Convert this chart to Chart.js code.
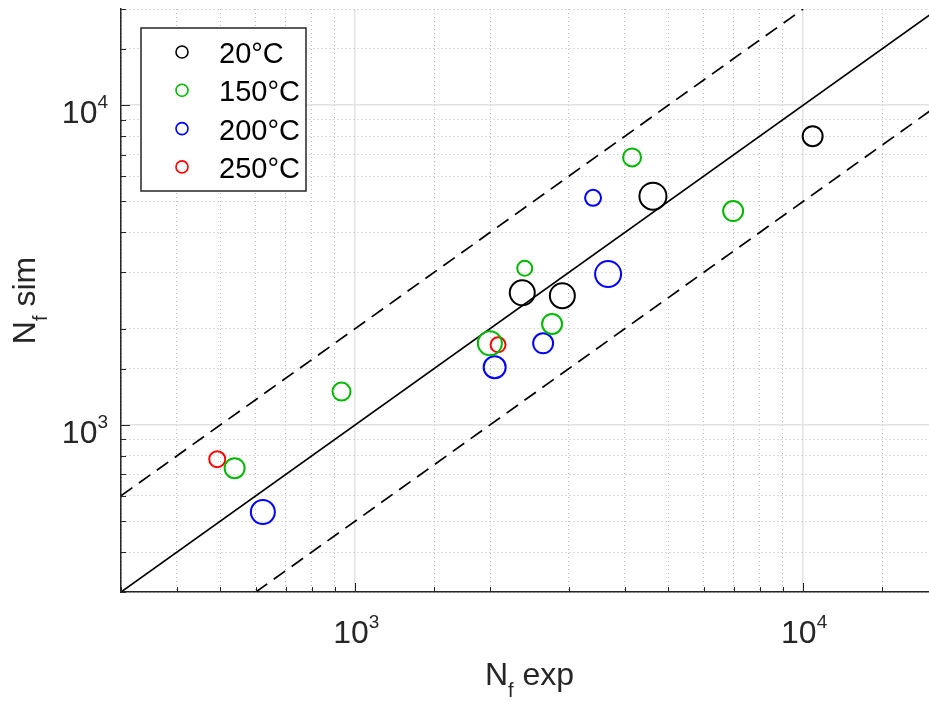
<!DOCTYPE html>
<html>
<head>
<meta charset="utf-8">
<script src="https://cdn.jsdelivr.net/npm/chart.js@4.4.1/dist/chart.umd.min.js"></script>
<style>
  html, body { margin: 0; padding: 0; background: #fff; overflow: hidden; }
  #contenedor { position: absolute; left: 0; top: 0; width: 945px; height: 701px; }
</style>
</head>
<body>
<div id="contenedor"><canvas id="grafico" width="945" height="701"></canvas></div>
<script>
// --- Datos (N_f experimental vs N_f simulado) ---
const series = ['20°C', '150°C', '200°C', '250°C'];

const exp20 = [2360, 2900, 4620, 10500];
const sim20 = [2590, 2535, 5195, 8000];

const exp150 = [538, 932, 1998, 2390, 2751, 4150, 6977];
const sim150 = [732, 1271, 1800, 3089, 2069, 6865, 4665];

const exp200 = [622, 2048, 2627, 3396, 3669];
const sim200 = [534, 1514, 1800, 5132, 2964];

const exp250 = [492, 2084];
const sim250 = [781, 1780];

// radio de cada marcador (px)
const radio20 = [12.5, 12.5, 13.5, 10];
const radio150 = [10, 9, 12, 7.5, 10, 9, 10];
const radio200 = [12, 11, 10, 8, 13];
const radio250 = [8, 7.5];

// rectas de referencia: y = x, y = 2x, y = x/2
const lineaX = [300, 20000];
const lineaY = [300, 20000];
const superiorX = [300, 10000];
const superiorY = [600, 20000];
const inferiorX = [600, 20000];
const inferiorY = [300, 10000];

// etiquetas de los ejes
const ticksX = [1000, 10000];
const ticksY = [1000, 10000];

const colores = ['#000000', 'rgb(0,185,0)', '#0000ff', '#ff0000'];
const FUENTE = '"Liberation Sans", Arial, Helvetica, sans-serif';

const puntos = (xs, ys) => xs.map((v, i) => ({ x: v, y: ys[i] }));
const esDecada = v => Math.abs(Math.log10(v) - Math.round(Math.log10(v))) < 1e-9;

function serieDispersion(idx, xs, ys, rs) {
    return {
        type: 'scatter',
        label: series[idx],
        data: puntos(xs, ys),
        borderColor: colores[idx],
        backgroundColor: 'rgba(0,0,0,0)',
        pointRadius: rs,
        pointBorderWidth: 2,
        pointStyle: 'circle'
    };
}

function recta(xs, ys, guiones) {
    return {
        type: 'line',
        data: puntos(xs, ys),
        borderColor: '#000000',
        borderWidth: 1.7,
        borderDash: guiones,
        pointRadius: 0,
        fill: false
    };
}

// Dibuja un texto con sub/superíndice
function medir(ctx, partes) {
    let w = 0;
    partes.forEach(p => { ctx.font = p.tam + 'px ' + FUENTE; w += ctx.measureText(p.t).width; });
    return w;
}
function escribir(ctx, partes, x, y) {
    partes.forEach(p => {
        ctx.font = p.tam + 'px ' + FUENTE;
        ctx.fillText(p.t, x, y + (p.dy || 0));
        x += ctx.measureText(p.t).width;
    });
}

const decorado = {
    id: 'decorado',
    afterDraw(chart) {
        const { ctx, chartArea: ca, scales: { x, y } } = chart;
        ctx.save();

        // marcas hacia dentro
        ctx.strokeStyle = '#262626';
        ctx.lineWidth = 1;
        x.ticks.forEach(t => {
            const px = Math.round(x.getPixelForValue(t.value)) + 0.5;
            const largo = esDecada(t.value) ? 9 : 5;
            ctx.beginPath(); ctx.moveTo(px, ca.bottom); ctx.lineTo(px, ca.bottom - largo); ctx.stroke();
        });
        y.ticks.forEach(t => {
            const py = Math.round(y.getPixelForValue(t.value)) + 0.5;
            const largo = esDecada(t.value) ? 9 : 5;
            ctx.beginPath(); ctx.moveTo(ca.left, py); ctx.lineTo(ca.left + largo, py); ctx.stroke();
        });

        // etiquetas 10^n
        ctx.fillStyle = '#262626';
        ctx.textBaseline = 'alphabetic';
        ctx.textAlign = 'left';
        ticksX.forEach(v => {
            const partes = [{ t: '10', tam: 32 }, { t: String(Math.round(Math.log10(v))), tam: 19, dy: -15 }];
            const w = medir(ctx, partes);
            escribir(ctx, partes, x.getPixelForValue(v) - w / 2 + 1, ca.bottom + 51);
        });
        ticksY.forEach(v => {
            const partes = [{ t: '10', tam: 32 }, { t: String(Math.round(Math.log10(v))), tam: 19, dy: -15 }];
            const w = medir(ctx, partes);
            escribir(ctx, partes, ca.left - 13 - w, y.getPixelForValue(v) + 18);
        });

        // títulos de los ejes
        const tituloX = [{ t: 'N', tam: 32 }, { t: 'f', tam: 20, dy: 12 }, { t: ' exp', tam: 32 }];
        const wx = medir(ctx, tituloX);
        escribir(ctx, tituloX, (ca.left + ca.right) / 2 - wx / 2, 685);

        const tituloY = [{ t: 'N', tam: 32 }, { t: 'f', tam: 20, dy: 12 }, { t: ' sim', tam: 32 }];
        const wy = medir(ctx, tituloY);
        ctx.save();
        ctx.translate(35, (ca.top + ca.bottom) / 2);
        ctx.rotate(-Math.PI / 2);
        escribir(ctx, tituloY, -wy / 2, 0);
        ctx.restore();

        // leyenda
        const lx = ca.left + 20, ly = ca.top + 19, lw = 165, lh = 163;
        ctx.fillStyle = '#ffffff';
        ctx.fillRect(lx, ly, lw, lh);
        ctx.strokeStyle = '#262626';
        ctx.lineWidth = 1.5;
        ctx.strokeRect(lx, ly, lw, lh);
        ctx.font = '29px ' + FUENTE;
        series.forEach((s, i) => {
            const fy = ly + 24 + i * 38.3;
            ctx.beginPath();
            ctx.arc(lx + 41, fy, 6, 0, Math.PI * 2);
            ctx.strokeStyle = colores[i];
            ctx.lineWidth = 1.6;
            ctx.stroke();
            ctx.fillStyle = '#000000';
            ctx.fillText(s, lx + 78, fy + 11);
        });

        ctx.restore();
    }
};

const ejeLog = (min, max) => ({
    type: 'logarithmic',
    min: min,
    max: max,
    ticks: { display: false },
    title: { display: false },
    grid: {
        drawTicks: false,
        lineWidth: ctx => (ctx.tick && esDecada(ctx.tick.value)) ? 1.5 : 1,
        color: ctx => (ctx.tick && esDecada(ctx.tick.value)) ? '#e2e2e2' : '#b8b8b8'
    },
    border: {
        display: true,
        color: '#262626',
        width: 1.5,
        dash: ctx => (ctx.tick && !esDecada(ctx.tick.value)) ? [1, 3] : []
    }
});

new Chart(document.getElementById('grafico'), {
    type: 'scatter',
    data: {
        datasets: [
            serieDispersion(0, exp20, sim20, radio20),
            serieDispersion(1, exp150, sim150, radio150),
            serieDispersion(2, exp200, sim200, radio200),
            serieDispersion(3, exp250, sim250, radio250),
            recta(lineaX, lineaY, []),
            recta(superiorX, superiorY, [14, 8]),
            recta(inferiorX, inferiorY, [14, 8])
        ]
    },
    options: {
        responsive: false,
        animation: false,
        layout: { autoPadding: false, padding: { left: 121, top: 9, right: 7, bottom: 109 } },
        plugins: { legend: { display: false }, tooltip: { enabled: false } },
        scales: {
            x: ejeLog(300, 20000),
            y: ejeLog(300, 20000)
        }
    },
    plugins: [decorado]
});
</script>
</body>
</html>
